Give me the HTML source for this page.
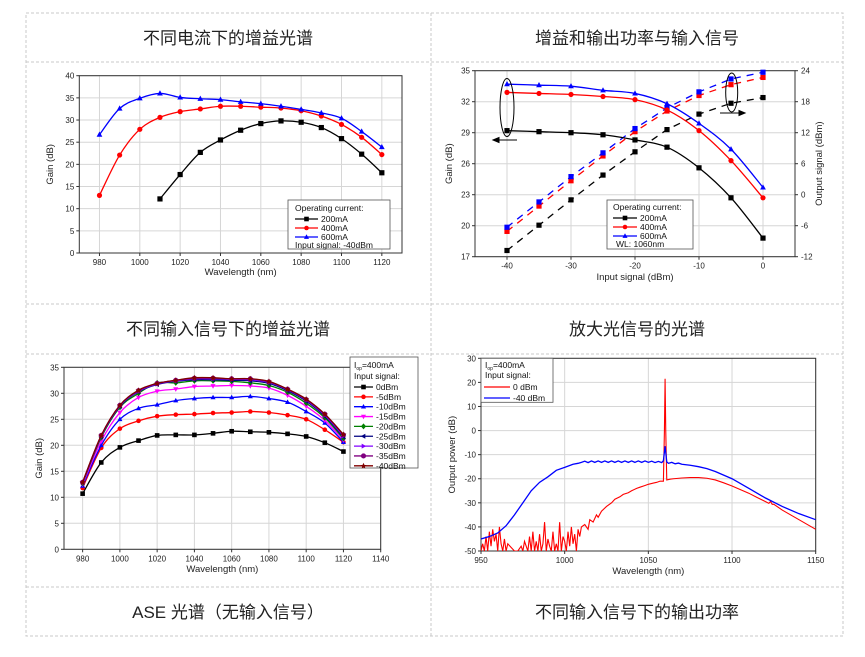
<!DOCTYPE html>
<html><head><meta charset="utf-8"><style>
html,body{margin:0;padding:0;background:#fff;}
svg{display:block;font-family:"Liberation Sans",Arial,sans-serif;}
.t{font-family:"Liberation Sans","Noto Sans CJK SC",sans-serif;font-size:17px;fill:#222;}
</style></head><body>
<svg id="root" width="865" height="657" viewBox="0 0 865 657" xmlns="http://www.w3.org/2000/svg">
<g stroke="#c8c8c8" stroke-dasharray="3,2" fill="none">
<rect x="26" y="13" width="817" height="623"/>
<line x1="26" y1="62" x2="843" y2="62"/><line x1="26" y1="304" x2="843" y2="304"/>
<line x1="26" y1="354" x2="843" y2="354"/><line x1="26" y1="587" x2="843" y2="587"/>
<line x1="431" y1="13" x2="431" y2="636"/>
</g>
<text class="t" x="228" y="44" text-anchor="middle">不同电流下的增益光谱</text>
<text class="t" x="637" y="44" text-anchor="middle">增益和输出功率与输入信号</text>
<text class="t" x="228" y="335" text-anchor="middle">不同输入信号下的增益光谱</text>
<text class="t" x="637" y="335" text-anchor="middle">放大光信号的光谱</text>
<text class="t" x="228" y="618" text-anchor="middle">ASE 光谱（无输入信号）</text>
<text class="t" x="637" y="618" text-anchor="middle">不同输入信号下的输出功率</text>
</svg>
<script>
// ---------- Chart 1 data ----------
const c1Wl = [980,990,1000,1010,1020,1030,1040,1050,1060,1070,1080,1090,1100,1110,1120];
const c1G200 = [null,null,null,12.2,17.7,22.7,25.5,27.7,29.2,29.8,29.5,28.3,25.8,22.3,18.1];
const c1G400 = [13,22.1,27.9,30.6,31.9,32.5,33.1,33.1,32.9,32.7,32.1,30.9,29,26.1,22.2];
const c1G600 = [26.7,32.6,34.9,36,35.1,34.8,34.6,34.1,33.7,33.1,32.4,31.6,30.4,27.4,23.9];
const c1XTicks = [980,1000,1020,1040,1060,1080,1100,1120];
const c1YTicks = [0,5,10,15,20,25,30,35,40];
// ---------- Chart 2 data ----------
const c2In = [-40,-35,-30,-25,-20,-15,-10,-5,0];
const c2Gain200 = [29.2,29.1,29,28.8,28.3,27.6,25.6,22.7,18.8];
const c2Gain400 = [32.9,32.8,32.7,32.5,32.2,31.2,29.2,26.3,22.7];
const c2Gain600 = [33.7,33.6,33.5,33.1,32.8,31.8,29.9,27.4,23.7];
const c2Out200 = [-10.8,-5.9,-1,3.8,8.3,12.6,15.6,17.7,18.8];
const c2Out400 = [-7.1,-2.2,2.7,7.5,12.2,16.2,19.2,21.3,22.7];
const c2Out600 = [-6.3,-1.4,3.5,8.1,12.8,16.8,19.9,22.4,23.7];
const c2XTicks = [-40,-30,-20,-10,0];
const c2YTicks = [17,20,23,26,29,32,35];
const c2Y2Ticks = [-12,-6,0,6,12,18,24];
// ---------- Chart 3 data ----------
const c3Wl = [980,990,1000,1010,1020,1030,1040,1050,1060,1070,1080,1090,1100,1110,1120];
const c3Labels = ['0dBm','-5dBm','-10dBm','-15dBm','-20dBm','-25dBm','-30dBm','-35dBm','-40dBm'];
const c3S0 = [10.7,16.7,19.6,20.9,21.9,22,22,22.3,22.7,22.6,22.5,22.2,21.7,20.5,18.8];
const c3S5 = [11.8,19.5,23.2,24.7,25.6,25.9,26,26.2,26.3,26.5,26.3,25.8,25,23,20.6];
const c3S10 = [12.2,20,25,27.1,27.8,28.6,29,29.2,29.2,29.4,29,28.3,26.5,24.3,20.6];
const c3S15 = [12.5,20.8,26.3,29.2,30.4,30.8,31.3,31.4,31.5,31.4,31,29.6,27.5,24.8,21];
const c3S20 = [12.7,21.5,27.3,30,32,32,32.4,32.4,32.3,32,31.5,30.2,28.1,25.3,21.3];
const c3S25 = [12.8,21.7,27.5,30.3,31.7,32.3,32.6,32.6,32.5,32.4,31.9,30.5,28.5,25.6,21.6];
const c3S30 = [12.8,21.8,27.6,30.4,31.8,32.4,32.8,32.8,32.7,32.6,32.1,30.7,28.7,25.8,21.8];
const c3S35 = [12.9,21.9,27.7,30.5,31.9,32.5,32.9,32.9,32.8,32.8,32.2,30.8,28.8,26,22];
const c3S40 = [12.9,21.9,27.7,30.6,31.9,32.5,33,33,32.8,32.8,32.3,30.8,28.9,26,22.1];
const c3XTicks = [980,1000,1020,1040,1060,1080,1100,1120,1140];
const c3YTicks = [0,5,10,15,20,25,30,35];
// ---------- Chart 4 data ----------
const c4BlueWl = [950,955,960,965,970,975,980,985,990,995,1000,1005,1008,1010,1012,1014,1016,1018,1020,1022,1024,1026,1028,1030,1032,1034,1036,1038,1040,1042,1044,1046,1048,1050,1052,1054,1056,1058,1059,1060,1061,1062,1064,1066,1068,1070,1075,1080,1085,1090,1095,1100,1110,1120,1130,1140,1150];
const c4BlueP = [-45,-44,-42.5,-39.5,-35,-30,-25,-21.5,-19.2,-16.5,-15.3,-14,-13.6,-13.2,-12.7,-13.3,-12.6,-13.2,-12.6,-13.2,-12.6,-13.2,-12.6,-13.2,-12.6,-13.2,-12.6,-13.2,-12.6,-13.2,-12.6,-13.2,-12.6,-13.2,-12.7,-13.3,-12.8,-13.3,-12.5,-6.5,-13,-13.6,-13.2,-13.8,-13.5,-14,-14.4,-15,-15.8,-17,-18.5,-20,-24,-28,-31.5,-34.5,-37];
const c4RedWl = [950,951,952,953,954,955,956,957,958,959,960,961,962,963,964,965,966,970,972,974,975,976,978,979,980,981,982,983,984,985,986,987,988,989,990,991,992,993,994,995,996,997,998,999,1000,1001,1002,1003,1004,1005,1006,1007,1008,1009,1010,1012,1014,1015,1017,1019,1020,1022,1025,1028,1030,1033,1035,1038,1040,1043,1045,1048,1050,1053,1055,1057,1059,1059.6,1060,1060.4,1061,1063,1065,1070,1075,1080,1085,1090,1095,1100,1105,1110,1115,1120,1122,1123,1124,1125,1130,1140,1150];
const c4RedP = [-50,-47,-50,-44,-50,-42,-48,-41,-46,-43,-50,-40,-47,-50,-45,-50,-47,-50,-50,-48,-50,-46,-50,-44,-50,-42,-50,-46,-50,-43,-50,-47,-38,-50,-45,-48,-50,-42,-50,-47,-50,-38,-50,-44,-46,-50,-42,-48,-40,-47,-43,-50,-41,-44,-40,-39,-41,-37,-38,-35,-36,-33.5,-31.5,-30,-28.5,-27.5,-26.5,-25.8,-25,-24,-23.5,-22.8,-22.3,-21.8,-21.5,-21,-21,0,21.5,0,-20.5,-20.2,-20,-19.7,-19.5,-19.5,-19.8,-20.5,-21.7,-23,-24.5,-26,-27.8,-29.5,-30.2,-29.4,-30.6,-30.6,-33,-37,-41];
const c4XTicks = [950,1000,1050,1100,1150];
const c4YTicks = [-50,-40,-30,-20,-10,0,10,20,30];

const NS='http://www.w3.org/2000/svg';
const root=document.getElementById('root');
function mk(tag,attrs,parent){const e=document.createElementNS(NS,tag);for(const k in attrs)e.setAttribute(k,attrs[k]);(parent||root).appendChild(e);return e;}
function lin(d0,d1,r0,r1){return v=>r0+(v-d0)/(d1-d0)*(r1-r0);}
function smoothPath(pts){
  if(pts.length<2)return '';
  let d='M'+pts[0][0].toFixed(2)+','+pts[0][1].toFixed(2);
  for(let i=0;i<pts.length-1;i++){
    const p0=pts[i-1]||pts[i],p1=pts[i],p2=pts[i+1],p3=pts[i+2]||p2;
    const c1x=p1[0]+(p2[0]-p0[0])/6,c1y=p1[1]+(p2[1]-p0[1])/6;
    const c2x=p2[0]-(p3[0]-p1[0])/6,c2y=p2[1]-(p3[1]-p1[1])/6;
    d+='C'+c1x.toFixed(2)+','+c1y.toFixed(2)+' '+c2x.toFixed(2)+','+c2y.toFixed(2)+' '+p2[0].toFixed(2)+','+p2[1].toFixed(2);
  }
  return d;
}
function marker(g,shape,x,y,c,s){
  s=s||2.6;let e;
  if(shape==='square')e=mk('rect',{x:x-s,y:y-s,width:2*s,height:2*s,fill:c},g);
  else if(shape==='circle')e=mk('circle',{cx:x,cy:y,r:s,fill:c},g);
  else if(shape==='up')e=mk('polygon',{points:`${x},${y-s*1.2} ${x-s*1.1},${y+s*0.8} ${x+s*1.1},${y+s*0.8}`,fill:c},g);
  else if(shape==='down')e=mk('polygon',{points:`${x},${y+s*1.2} ${x-s*1.1},${y-s*0.8} ${x+s*1.1},${y-s*0.8}`,fill:c},g);
  else if(shape==='diamond')e=mk('polygon',{points:`${x},${y-s*1.3} ${x+s*1.1},${y} ${x},${y+s*1.3} ${x-s*1.1},${y}`,fill:c},g);
  else if(shape==='left')e=mk('polygon',{points:`${x-s*1.2},${y} ${x+s*0.8},${y-s*1.1} ${x+s*0.8},${y+s*1.1}`,fill:c},g);
  else if(shape==='right')e=mk('polygon',{points:`${x+s*1.2},${y} ${x-s*0.8},${y-s*1.1} ${x-s*0.8},${y+s*1.1}`,fill:c},g);
  else if(shape==='hex')e=mk('circle',{cx:x,cy:y,r:s*1.1,fill:c},g);
  else {e=mk('polygon',{points:`${x},${y-s*1.3} ${x+s*0.4},${y-s*0.4} ${x+s*1.3},${y-s*0.3} ${x+s*0.6},${y+s*0.3} ${x+s*0.8},${y+s*1.2} ${x},${y+s*0.7} ${x-s*0.8},${y+s*1.2} ${x-s*0.6},${y+s*0.3} ${x-s*1.3},${y-s*0.3} ${x-s*0.4},${y-s*0.4}`,fill:c},g);}
  
  
}
function axes(name,L,R,T,B,sx,sy,xt,yt,opt){
  const g=mk('g',{});
  
  
  xt.forEach(v=>{const l=mk('line',{x1:sx(v),x2:sx(v),y1:T,y2:B,stroke:'#d6d6d6','stroke-width':1},g);
    
    });
  yt.forEach(v=>{const l=mk('line',{x1:L,x2:R,y1:sy(v),y2:sy(v),stroke:'#d6d6d6','stroke-width':1},g);
    
    });
  const fr=mk('rect',{x:L,y:T,width:R-L,height:B-T,fill:'none',stroke:'#333','stroke-width':1},g);
  
  
  xt.forEach(v=>{mk('line',{x1:sx(v),x2:sx(v),y1:B,y2:B+3,stroke:'#333'},g);
    const t=mk('text',{x:sx(v),y:B+12,'font-size':8,'text-anchor':'middle',fill:'#222'},g);t.textContent=v;
    
    });
  yt.forEach(v=>{mk('line',{x1:L-3,x2:L,y1:sy(v),y2:sy(v),stroke:'#333'},g);
    const t=mk('text',{x:L-5,y:sy(v)+3,'font-size':8,'text-anchor':'end',fill:'#222'},g);t.textContent=v;
    
    });
  const xl=mk('text',{x:(L+R)/2,y:opt.xly,'font-size':9.5,'text-anchor':'middle',fill:'#222'},g);xl.textContent=opt.xl;
  
  
  const yl=mk('text',{x:0,y:0,'font-size':9.5,'text-anchor':'middle',fill:'#222',transform:`translate(${opt.ylx},${(T+B)/2}) rotate(-90)`},g);yl.textContent=opt.yl;
  
  
  return g;
}
function series(name,xs,ys,sx,sy,color,shape,opts){
  opts=opts||{};
  const g=mk('g',{});
  
  
  const pts=[];xs.forEach((x,i)=>{if(ys[i]!=null)pts.push([sx(x),sy(ys[i])]);});
  let d;
  if(opts.linear)d='M'+pts.map(p=>p[0].toFixed(2)+','+p[1].toFixed(2)).join('L');else d=smoothPath(pts);
  const p=mk('path',{d:d,fill:'none',stroke:color,'stroke-width':opts.w||1.3},g);
  if(opts.dash)p.setAttribute('stroke-dasharray',opts.dash);
  if(opts.clip)p.setAttribute('clip-path',opts.clip);
  
  
  if(shape)pts.forEach(q=>marker(g,shape,q[0],q[1],color,opts.ms));
}
function legendBox(name,x,y,w,h){const r=mk('rect',{x:x,y:y,width:w,height:h,fill:'#fff',stroke:'#555','stroke-width':0.8});
  
  }
function ltext(x,y,s,fs){const t=mk('text',{x:x,y:y,'font-size':fs||8.5,fill:'#111'});t.textContent=s;
  
  return t;}
function lentry(x1,x2,y,color,shape,label,tx,fs,noMarker){
  const l=mk('line',{x1:x1,x2:x2,y1:y,y2:y,stroke:color,'stroke-width':1.3});
  
  
  if(!noMarker)marker(root,shape,(x1+x2)/2,y,color,2.3);
  ltext(tx,y+3,label,fs);
}

// ===== Chart 1 =====
{const L=79.3,R=402,T=75.7,B=253;const sx=lin(970,1130,L,R),sy=lin(0,40,B,T);
axes('chart1',L,R,T,B,sx,sy,c1XTicks,c1YTicks,{xl:'Wavelength (nm)',xly:275,yl:'Gain (dB)',ylx:53});
series('series-200mA',c1Wl,c1G200,sx,sy,'#000','square');
series('series-400mA',c1Wl,c1G400,sx,sy,'#f00','circle');
series('series-600mA',c1Wl,c1G600,sx,sy,'#00f','up');
legendBox('chart1-legend',288,200,102,49);
ltext(295,211,'Operating current:');
lentry(295,318,219,'#000','square','200mA',321);
lentry(295,318,228,'#f00','circle','400mA',321);
lentry(295,318,237,'#00f','up','600mA',321);
ltext(295,248,'Input signal: -40dBm');}

// ===== Chart 2 =====
{const L=475,R=795,T=70.7,B=256.7;const sx=lin(-45,5,L,R),sy=lin(17,35,B,T),sy2=lin(-12,24,B,T);
axes('chart2',L,R,T,B,sx,sy,c2XTicks,c2YTicks,{xl:'Input signal (dBm)',xly:280,yl:'Gain (dB)',ylx:452});
const g=mk('g',{});


c2Y2Ticks.forEach(v=>{mk('line',{x1:R,x2:R+3,y1:sy2(v),y2:sy2(v),stroke:'#333'},g);
  const t=mk('text',{x:R+6,y:sy2(v)+3,'font-size':8,fill:'#222'},g);t.textContent=v;
  
  });
const yl=mk('text',{x:0,y:0,'font-size':9.5,'text-anchor':'middle',fill:'#222',transform:`translate(822,${(T+B)/2}) rotate(-90)`},g);yl.textContent='Output signal (dBm)';


series('output-200mA',c2In,c2Out200,sx,sy2,'#000','square',{linear:1,dash:'7,6'});
series('output-400mA',c2In,c2Out400,sx,sy2,'#f00','square',{linear:1,dash:'7,6'});
series('output-600mA',c2In,c2Out600,sx,sy2,'#00f','square',{linear:1,dash:'7,6'});
series('gain-200mA',c2In,c2Gain200,sx,sy,'#000','square');
series('gain-400mA',c2In,c2Gain400,sx,sy,'#f00','circle');
series('gain-600mA',c2In,c2Gain600,sx,sy,'#00f','up');
const e1=mk('ellipse',{cx:507,cy:107.5,rx:7,ry:29,fill:'none',stroke:'#000','stroke-width':1});


const e2=mk('ellipse',{cx:731.7,cy:92.5,rx:6,ry:19.5,fill:'none',stroke:'#000','stroke-width':1});


const a1=mk('path',{d:'M517,140 L497,140 M493,140 L499,137.5 L499,142.5 Z',stroke:'#000',fill:'#000','stroke-width':1});


const a2=mk('path',{d:'M720,113 L741,113 M745,113 L739,110.5 L739,115.5 Z',stroke:'#000',fill:'#000','stroke-width':1});


legendBox('chart2-legend',607,200,86,49);
ltext(613,210,'Operating current:');
lentry(613,637,218,'#000','square','200mA',640);
lentry(613,637,227,'#f00','circle','400mA',640);
lentry(613,637,236,'#00f','up','600mA',640);
ltext(616,247,'WL: 1060nm');}

// ===== Chart 3 =====
{const L=64,R=380.7,T=367.3,B=549.3;const sx=lin(970,1140,L,R),sy=lin(0,35,B,T);
axes('chart3',L,R,T,B,sx,sy,c3XTicks,c3YTicks,{xl:'Wavelength (nm)',xly:572,yl:'Gain (dB)',ylx:42});
const sets=[c3S0,c3S5,c3S10,c3S15,c3S20,c3S25,c3S30,c3S35,c3S40];
const cols=['#000','#f00','#00f','#f0f','#008000','#000080','#8000ff','#800080','#800000'];
const shapes=['square','circle','up','down','diamond','left','right','hex','star'];
sets.forEach((s,i)=>series('series-'+c3Labels[i],c3Wl,s,sx,sy,cols[i],shapes[i],{ms:2.3}));
legendBox('chart3-legend',350,357,68,111);
const t=ltext(354,368,'I',8.5);const sub=mk('tspan',{'font-size':5,dy:2});sub.textContent='op';t.appendChild(sub);const r=mk('tspan',{dy:-2});r.textContent='=400mA';t.appendChild(r);
ltext(354,379,'Input signal:');
c3Labels.forEach((lb,i)=>lentry(354,373,387+i*9.85,cols[i],shapes[i],lb,376));}

// ===== Chart 4 =====
{const L=481,R=815.7,T=358.3,B=551;const sx=lin(950,1150,L,R),sy=lin(-50,30,B,T);
axes('chart4',L,R,T,B,sx,sy,c4XTicks,c4YTicks,{xl:'Wavelength (nm)',xly:574,yl:'Output power (dB)',ylx:455});
const defs=mk('defs',{});const cp=mk('clipPath',{id:'c4clip'},defs);mk('rect',{x:L,y:T,width:R-L,height:B-T},cp);
series('spectrum-0dBm',c4RedWl,c4RedP,sx,sy,'#f00',null,{linear:1,w:1.1,clip:'url(#c4clip)'});
series('spectrum-minus40dBm',c4BlueWl,c4BlueP,sx,sy,'#00f',null,{linear:1,w:1.3,clip:'url(#c4clip)'});
legendBox('chart4-legend',481,358.3,72,44);
const t=ltext(485,368,'I',8.5);const sub=mk('tspan',{'font-size':5,dy:2});sub.textContent='op';t.appendChild(sub);const r=mk('tspan',{dy:-2});r.textContent='=400mA';t.appendChild(r);
ltext(485,378,'Input signal:');
lentry(484,510,387,'#f00',null,'0 dBm',513,8.5,true);
lentry(484,510,398,'#00f',null,'-40 dBm',513,8.5,true);}
</script>
</body></html>
